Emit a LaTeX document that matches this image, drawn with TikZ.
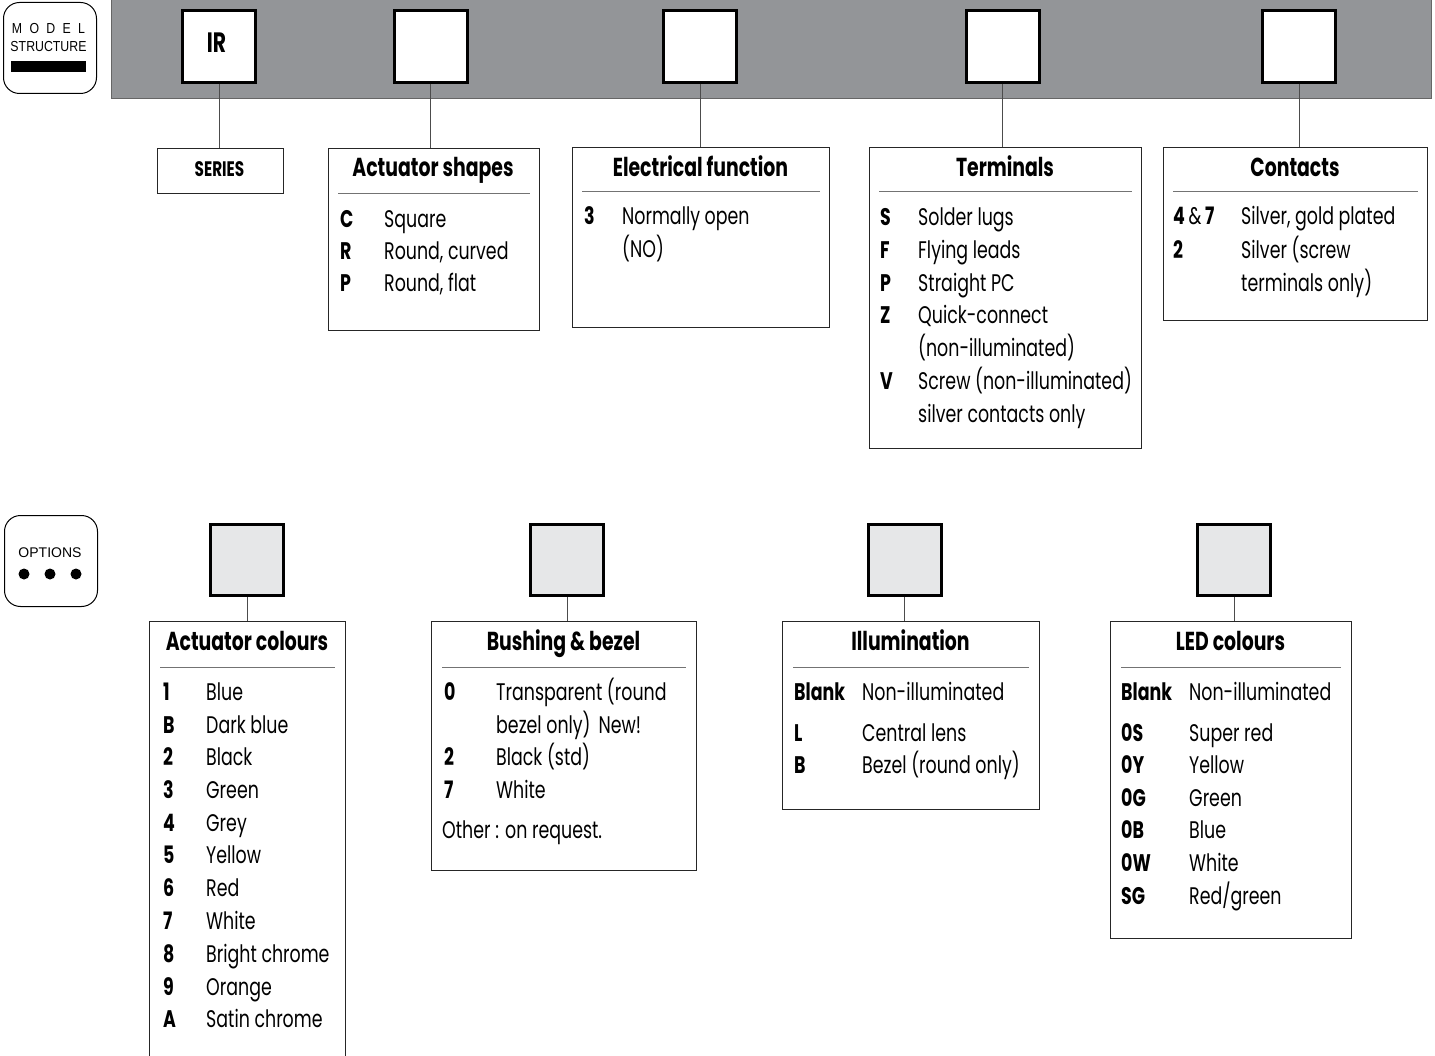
\documentclass[tikz,border=0pt]{standalone}
\usepackage{fontspec}
\setmainfont{Poppins}[FakeStretch=0.725]
\newfontfamily\badgefont{Liberation Sans}[FakeStretch=0.85]
\newfontfamily\badgefontw{Liberation Sans}
\definecolor{bandgray}{RGB}{147,149,152}
\definecolor{optgray}{RGB}{230,231,232}
\tikzset{
 body/.style={font=\fontsize{24}{28}\selectfont, inner sep=0, anchor=base west},
 codet/.style={font=\fontsize{24}{28}\selectfont\bfseries, inner sep=0, anchor=base west},
 ttl/.style={font=\fontsize{26}{30}\selectfont\bfseries, inner sep=0, anchor=base},
 topbox/.style={draw=black, line width=3pt, fill=white, minimum width=73, minimum height=72, inner sep=0},
 optbox/.style={topbox, fill=optgray, minimum height=71},
 descbox/.style={draw=black!85, line width=1.3pt, inner sep=0, anchor=north west},
 rulel/.style={draw=black!55, line width=1pt},
 conn/.style={draw=black!70, line width=1pt},
 badge/.style={draw=black, line width=1pt, rounded corners=16pt, inner sep=0, anchor=north west, minimum width=93, minimum height=91},
 badgetxt/.style={font=\badgefont\fontsize{14.5}{16}\selectfont, inner sep=0},
}
\newcommand\ent[6]{%
 \node[codet] (#1a) at (#2,#4+8) {#5};
 \node[body] (#1b) at (#3,#4+8) {#6};}
\newcommand\cont[4]{\node[body] (#1) at (#2,#4+8) {#3};}
\begin{document}
\begin{tikzpicture}[x=1pt,y=-1pt]
\useasboundingbox (0,0) rectangle (1435,1056);
\clip (0,0) rectangle (1435,1056);
% ---------- model structure badge ----------
\node[badge] (msb) at (3,2) {};
\node[badgetxt] (msbt1) at (48.5,29) {M\hspace{7.3pt}O\hspace{7.3pt}D\hspace{7.3pt}E\hspace{7.3pt}L};
\node[badgetxt] (msbt2) at (48.5,46.5) {STRUCTURE};
\node[fill=black, minimum width=75, minimum height=11, inner sep=0] (msbar) at (48.5,66.5) {};
% ---------- grey band ----------
\node[fill=bandgray, draw=black!60, line width=1pt, minimum width=1320, minimum height=105, inner sep=0, anchor=south west] (band) at (111,99) {};
% ---------- top boxes ----------
\node[topbox] (t1) at (219,46.5) {};
\node[font=\fontsize{28}{30}\selectfont\bfseries, inner sep=0] (irt) at (216.5,43) {IR};
\node[topbox] (t2) at (430.5,46.5) {};
\node[topbox] (t3) at (700,46.5) {};
\node[topbox] (t4) at (1002.5,46.5) {};
\node[topbox] (t5) at (1299,46.5) {};
% ---------- description boxes ----------
\node[descbox, minimum width=126, minimum height=45] (ser) at (157,148) {};
\node[font=\fontsize{21}{23}\selectfont\bfseries, inner sep=0] (sert) at (219.5,169.5) {SERIES};
\node[descbox, minimum width=211, minimum height=182] (act) at (328,148) {};
\node[descbox, minimum width=257, minimum height=180] (ele) at (572,147) {};
\node[descbox, minimum width=272, minimum height=301] (ter) at (869,147) {};
\node[descbox, minimum width=264, minimum height=173] (con) at (1163,147) {};
\foreach \a/\b in {t1/ser,t2/act,t3/ele,t4/ter,t5/con}
  \draw[conn] (\a.south) -- (\a.south |- \b.north);
% titles and rules
\node[ttl] (actt) at (433,177) {Actuator shapes};
\draw[rulel] ([xshift=10]act.west |- 0,194) coordinate (actr1) -- ([xshift=-10]act.east |- 0,194) coordinate (actr2);
\node[ttl] (elet) at (700.5,177) {Electrical function};
\draw[rulel] ([xshift=10]ele.west |- 0,192) coordinate (eler1) -- ([xshift=-10]ele.east |- 0,192) coordinate (eler2);
\node[ttl] (tert) at (1005,177) {Terminals};
\draw[rulel] ([xshift=10]ter.west |- 0,192) coordinate (terr1) -- ([xshift=-10]ter.east |- 0,192) coordinate (terr2);
\node[ttl] (cont) at (1295,177) {Contacts};
\draw[rulel] ([xshift=10]con.west |- 0,192) coordinate (conr1) -- ([xshift=-10]con.east |- 0,192) coordinate (conr2);
% entries
\ent{ac1}{340}{384}{220}{C}{Square}
\ent{ac2}{340}{384}{252}{R}{Round, curved}
\ent{ac3}{340}{384}{284}{P}{Round, flat}
\ent{el1}{584}{622}{217}{3}{Normally open}
\cont{el2}{622}{(NO)}{250}
\ent{te1}{880}{918}{218}{S}{Solder lugs}
\ent{te2}{880}{918}{251}{F}{Flying leads}
\ent{te3}{880}{918}{284}{P}{Straight PC}
\ent{te4}{880}{918}{316}{Z}{Quick-connect}
\cont{te5}{918}{(non-illuminated)}{349}
\ent{te6}{880}{918}{382}{V}{Screw (non-illuminated)}
\cont{te7}{918}{silver contacts only}{414}
\ent{co1}{1173}{1241}{217}{4 {\mdseries\&} 7}{Silver, gold plated}
\ent{co2}{1173}{1241}{251}{2}{Silver (screw}
\cont{co3}{1241}{terminals only)}{284}
% ---------- options badge ----------
\node[badge] (opb) at (4,515) {};
\node[inner sep=0, font=\badgefontw\fontsize{14}{16}\selectfont] (opbt) at (50,553) {OPTIONS};
\foreach \i/\x in {1/24,2/50,3/76}
  \fill (\x,574) circle (5.5) coordinate (dot\i);
% ---------- option boxes ----------
\node[optbox] (o1) at (247,560) {};
\node[optbox] (o2) at (567,560) {};
\node[optbox] (o3) at (904.5,560) {};
\node[optbox] (o4) at (1234,560) {};
\node[descbox, minimum width=196, minimum height=470] (acol) at (149,621) {};
\node[descbox, minimum width=265, minimum height=249] (bush) at (431,621) {};
\node[descbox, minimum width=257, minimum height=188] (ill) at (782,621) {};
\node[descbox, minimum width=241, minimum height=317] (led) at (1110,621) {};
\foreach \a/\b in {o1/acol,o2/bush,o3/ill,o4/led}
  \draw[conn] (\a.south) -- (\a.south |- \b.north);
\node[ttl] (acolt) at (247,650) {Actuator colours};
\draw[rulel] ([xshift=11]acol.west |- 0,667) coordinate (acolr1) -- ([xshift=-11]acol.east |- 0,667) coordinate (acolr2);
\node[ttl] (busht) at (563.5,650) {Bushing \& bezel};
\draw[rulel] ([xshift=11]bush.west |- 0,667) coordinate (bushr1) -- ([xshift=-11]bush.east |- 0,667) coordinate (bushr2);
\node[ttl] (illt) at (910.5,650) {Illumination};
\draw[rulel] ([xshift=11]ill.west |- 0,667) coordinate (illr1) -- ([xshift=-11]ill.east |- 0,667) coordinate (illr2);
\node[ttl] (ledt) at (1230.5,650) {LED colours};
\draw[rulel] ([xshift=11]led.west |- 0,667) coordinate (ledr1) -- ([xshift=-11]led.east |- 0,667) coordinate (ledr2);
% actuator colours
\ent{cl1}{163}{206}{692}{1}{Blue}
\ent{cl2}{163}{206}{725}{B}{Dark blue}
\ent{cl3}{163}{206}{757}{2}{Black}
\ent{cl4}{163}{206}{790}{3}{Green}
\ent{cl5}{163}{206}{823}{4}{Grey}
\ent{cl6}{163}{206}{855}{5}{Yellow}
\ent{cl7}{163}{206}{888}{6}{Red}
\ent{cl8}{163}{206}{921}{7}{White}
\ent{cl9}{163}{206}{954}{8}{Bright chrome}
\ent{cl10}{163}{206}{987}{9}{Orange}
\ent{cl11}{163}{206}{1019}{A}{Satin chrome}
% bushing
\ent{bu1}{444}{496}{692}{0}{Transparent (round}
\cont{bu2}{496}{bezel only)\hspace{8pt}New!}{725}
\ent{bu3}{444}{496}{757}{2}{Black (std)}
\ent{bu4}{444}{496}{790}{7}{White}
\cont{bu5}{442}{Other : on request.}{830}
% illumination
\ent{il1}{794}{862}{692}{Blank}{Non-illuminated}
\ent{il2}{794}{862}{733}{L}{Central lens}
\ent{il3}{794}{862}{765}{B}{Bezel (round only)}
% led
\ent{le1}{1121}{1189}{692}{Blank}{Non-illuminated}
\ent{le2}{1121}{1189}{733}{0S}{Super red}
\ent{le3}{1121}{1189}{765}{0Y}{Yellow}
\ent{le4}{1121}{1189}{798}{0G}{Green}
\ent{le5}{1121}{1189}{830}{0B}{Blue}
\ent{le6}{1121}{1189}{863}{0W}{White}
\ent{le7}{1121}{1189}{896}{SG}{Red/green}
\end{tikzpicture}
\end{document}
